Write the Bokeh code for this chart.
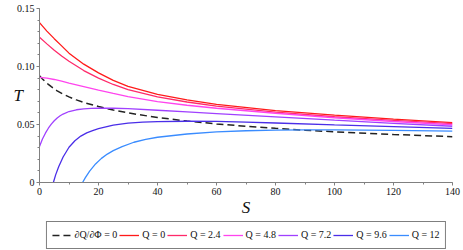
from bokeh.plotting import figure
from bokeh.layouts import column
from bokeh.models import (Legend, LegendItem, FixedTicker, Range1d,
                          CustomJSTickFormatter)
from bokeh.embed import file_html
from bokeh.resources import INLINE

# ---- data ----
S_dash = [0, 1, 2, 3, 4, 6, 8, 10, 12.5, 15, 20, 25, 30, 40, 50, 60, 70, 80, 90, 100, 120, 140]
T_dash = [0.0920, 0.0893, 0.0868, 0.0846, 0.0826, 0.0790, 0.0762, 0.0738, 0.0712, 0.0690,
          0.0655, 0.0625, 0.0600, 0.0560, 0.0530, 0.0505, 0.0485, 0.0467, 0.0451, 0.0437,
          0.0414, 0.0395]

S_q0 = [0, 2.5, 5, 7.5, 10, 15, 20, 25, 30, 40, 50, 60, 80, 100, 120, 140]
T_q0 = [0.1378, 0.1305, 0.1240, 0.1178, 0.1115, 0.1020, 0.0945, 0.0880, 0.0828, 0.0760,
        0.0712, 0.0673, 0.0620, 0.0580, 0.0546, 0.0517]

S_q24 = [0, 2.5, 5, 7.5, 10, 15, 20, 25, 30, 40, 50, 60, 80, 100, 120, 140]
T_q24 = [0.1252, 0.1195, 0.1140, 0.1090, 0.1045, 0.0965, 0.0900, 0.0845, 0.0800, 0.0738,
         0.0694, 0.0659, 0.0607, 0.0567, 0.0535, 0.0507]

S_q48 = [0, 2.5, 5, 7.5, 10, 15, 20, 25, 30, 40, 50, 60, 80, 100, 120, 140]
T_q48 = [0.0906, 0.0900, 0.0888, 0.0873, 0.0857, 0.0827, 0.0797, 0.0768, 0.0741, 0.0697,
         0.0666, 0.0640, 0.0597, 0.0558, 0.0526, 0.0498]

S_q72 = [0, 1, 2, 3, 4, 5, 6, 7, 8, 10, 12.5, 15, 17.5, 20, 25, 30, 40, 50, 60, 80, 100, 120, 140]
T_q72 = [0.0310, 0.0375, 0.0425, 0.0468, 0.0503, 0.0532, 0.0556, 0.0575, 0.0590, 0.0612,
         0.0627, 0.0635, 0.0639, 0.0641, 0.0640, 0.0636, 0.0623, 0.0608, 0.0594, 0.0566,
         0.0537, 0.0510, 0.0485]

S_q96 = [4.7, 5.5, 6.5, 8, 10, 12, 14, 16, 18, 20, 25, 30, 35, 40, 50, 60, 70, 80, 100, 120, 140]
T_q96 = [0.0, 0.0068, 0.0135, 0.0220, 0.0304, 0.0360, 0.0400, 0.0428, 0.0448, 0.0464,
         0.0494, 0.0511, 0.0520, 0.0525, 0.0528, 0.0527, 0.0521, 0.0513, 0.0496, 0.0481,
         0.0467]

S_q12 = [14.6, 15.5, 17, 19, 21, 23, 25, 28, 32, 36, 40, 50, 60, 70, 80, 90, 100, 120, 140]
T_q12 = [0.0, 0.0040, 0.0098, 0.0160, 0.0208, 0.0245, 0.0275, 0.0310, 0.0347, 0.0372,
         0.0390, 0.0418, 0.0436, 0.0446, 0.0451, 0.0453, 0.0453, 0.0449, 0.0443]

labels = ["\u2202Q/\u2202\u03a6 = 0", "Q = 0", "Q = 2.4", "Q = 4.8", "Q = 7.2", "Q = 9.6", "Q = 12"]
colors = ["#222222", "#ff1a1a", "#ff2a6a", "#ff44ee", "#a040ff", "#4a2ee8", "#3a8cff"]

x_ticks = [0, 20, 40, 60, 80, 100, 120, 140]
x_minor = list(range(0, 141, 10))
y_ticks = [0, 0.05, 0.10, 0.15]
y_minor = [i / 100 for i in range(0, 16)]

SERIF = "Liberation Serif"

p = figure(width=463, height=219, output_backend="svg", toolbar_location=None,
           x_range=Range1d(0, 140), y_range=Range1d(0, 0.15),
           min_border_left=39, min_border_right=11, min_border_top=8, min_border_bottom=35)
p.outline_line_color = None
p.xgrid.visible = False
p.ygrid.visible = False

# legend strip: a second, axis-less figure under the chart; its ranges lie
# outside the data so the proxy lines themselves are not seen, only their legend
lg = figure(width=463, height=31, output_backend="svg", toolbar_location=None,
            x_axis_type=None, y_axis_type=None,
            x_range=Range1d(-20, -10), y_range=Range1d(-20, -10),
            min_border_left=0, min_border_right=0, min_border_top=0, min_border_bottom=0)
lg.outline_line_color = None

series = [(S_dash, T_dash), (S_q0, T_q0), (S_q24, T_q24), (S_q48, T_q48),
          (S_q72, T_q72), (S_q96, T_q96), (S_q12, T_q12)]
items = []
for i, ((xs, ys), lab, col) in enumerate(zip(series, labels, colors)):
    style = dict(line_color=col, line_width=1.5 if i == 0 else 1.3)
    if i == 0:
        style["line_dash"] = "7 4"
    p.line(xs, ys, **style)
    proxy = lg.line(xs, ys, **style)
    items.append(LegendItem(label=lab, renderers=[proxy]))

for ax in (p.xaxis[0], p.yaxis[0]):
    ax.axis_line_color = "#808080"
    ax.major_tick_line_color = "#808080"
    ax.minor_tick_line_color = "#808080"
    ax.major_tick_in = 0
    ax.major_tick_out = 3
    ax.minor_tick_in = 0
    ax.minor_tick_out = 2
    ax.major_label_text_font = SERIF
    ax.major_label_text_font_size = "10px"
    ax.major_label_text_color = "#111111"
    ax.major_label_standoff = 2
    ax.axis_label_text_font = SERIF
    ax.axis_label_text_font_style = "italic"
    ax.axis_label_text_font_size = "17px"
    ax.axis_label_text_color = "#111111"

p.xaxis[0].ticker = FixedTicker(ticks=x_ticks, minor_ticks=x_minor)
p.yaxis[0].ticker = FixedTicker(ticks=y_ticks, minor_ticks=y_minor)
p.yaxis[0].formatter = CustomJSTickFormatter(code="return tick == 0 ? '0' : tick.toFixed(2);")
p.xaxis[0].axis_label = "S"
p.xaxis[0].axis_label_standoff = 0
p.yaxis[0].axis_label = "T"
p.yaxis[0].axis_label_orientation = "horizontal"
p.yaxis[0].axis_label_standoff = -9

legend = Legend(items=items, orientation="horizontal", location="center",
                border_line_color="black", border_line_width=1,
                background_fill_color="white", background_fill_alpha=1,
                label_text_font=SERIF, label_text_font_size="10px",
                label_text_color="#111111",
                glyph_width=20, glyph_height=14, label_standoff=3, spacing=2,
                padding=5, margin=0, label_height=16, label_width=10)
lg.add_layout(legend, "center")

layout = column(p, lg, spacing=0)
open("out.html", "w").write(file_html(layout, INLINE))
